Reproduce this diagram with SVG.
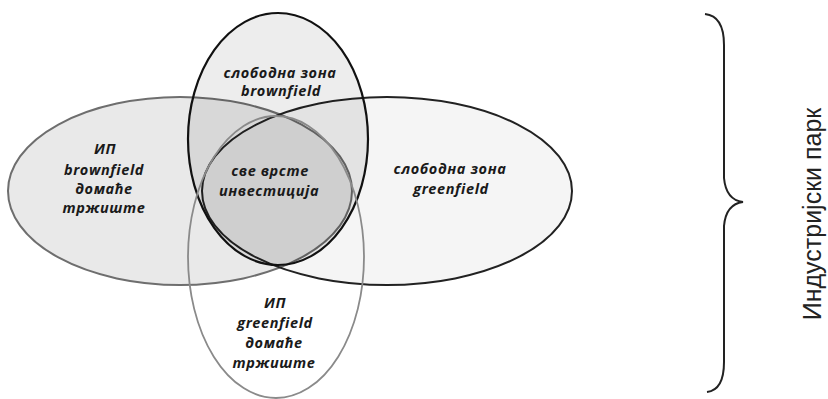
<svg xmlns="http://www.w3.org/2000/svg" width="828" height="399" viewBox="0 0 828 399">
<style>
.lbl{font-family:"Open Sans","DejaVu Sans",sans-serif;font-weight:bold;font-style:italic;font-size:14.5px;letter-spacing:0.6px;fill:#1a1a1a;text-anchor:middle;dominant-baseline:central}
.side{font-family:"Liberation Sans",Arial,sans-serif;font-size:25px;fill:#222;text-anchor:middle}
</style>
<rect width="828" height="399" fill="#fff"/>
<g id="ip-brownfield">
<ellipse cx="180" cy="191" rx="172" ry="94" fill="#000" fill-opacity="0.085" stroke="#6e6e6e" stroke-width="2"/>
</g>
<g id="sz-greenfield">
<ellipse cx="387" cy="191" rx="185" ry="94" fill="#000" fill-opacity="0.04" stroke="#222" stroke-width="2"/>
</g>
<g id="sz-brownfield">
<ellipse cx="278" cy="139" rx="90" ry="126" fill="#000" fill-opacity="0.07" stroke="#111" stroke-width="2.2"/>
</g>
<g id="ip-greenfield">
<ellipse cx="276" cy="257" rx="88" ry="141" fill="none" stroke="#8a8a8a" stroke-width="1.8"/>
</g>
<g id="texts">
<text class="lbl" x="280" y="72">слободна зона</text>
<text class="lbl" x="281" y="90">brownfield</text>
<text class="lbl" x="105" y="148">ИП</text>
<text class="lbl" x="104" y="169">brownfield</text>
<text class="lbl" x="104" y="188">домаће</text>
<text class="lbl" x="104" y="207">тржиште</text>
<text class="lbl" x="270" y="170">све врсте</text>
<text class="lbl" x="269" y="190">инвестиција</text>
<text class="lbl" x="450" y="168">слободна зона</text>
<text class="lbl" x="451" y="188">greenfield</text>
<text class="lbl" x="275" y="302">ИП</text>
<text class="lbl" x="275" y="322">greenfield</text>
<text class="lbl" x="274" y="342">домаће</text>
<text class="lbl" x="274" y="362">тржиште</text>
</g>
<g id="brace">
<path d="M705,14 Q724,16 724,45 L724,178 Q726,200 743,202 Q726,204 724,226 L724,362 Q724,390 707,392" fill="none" stroke="#222" stroke-width="2"/>
</g>
<g id="industrial-park">
<text class="side" transform="translate(821,214) rotate(-90)">Индустријски парк</text>
</g>
</svg>
